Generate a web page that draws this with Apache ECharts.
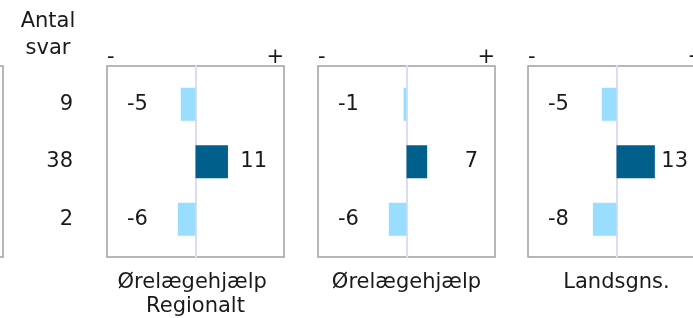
<!DOCTYPE html>
<html>
<head>
<meta charset="utf-8">
<script src="https://cdn.jsdelivr.net/npm/echarts@6/dist/echarts.min.js"></script>
<style>
  html, body { margin: 0; padding: 0; background: #fff; }
  #main { width: 693px; height: 318px; }
</style>
</head>
<body>
<div id="main"></div>
<script>
// rows (top to bottom) and number of answers
const rows = ['r1', 'r2', 'r3']
const antalSvar = [9, 38, 2]

// panels
const panelNames = ['Ørelægehjælp \nRegionalt', 'Ørelægehjælp', 'Landsgns.']
const valuesRegionalt = [-5, 11, -6]
const valuesOrelaege = [-1, 7, -6]
const valuesLandsgns = [-5, 13, -8]
const panelValues = [valuesRegionalt, valuesOrelaege, valuesLandsgns]

const axisMin = -30
const axisMax = 30

const FONT = "'DejaVu Sans', Verdana, sans-serif"
const FS = 21
const TXT = '#1a1a1a'
const LIGHT = '#99ddff'
const DARK = '#005f8b'

const panelLeft = [107, 318, 528]
const boxW = 177

let option = {
  backgroundColor: '#fff',
  animation: false,
  textStyle: { fontFamily: FONT },
  title: {
    text: 'Antal\nsvar',
    left: 48,
    top: 8,
    padding: 0,
    textAlign: 'center',
    textStyle: { fontFamily: FONT, fontSize: FS, fontWeight: 'normal', color: TXT, lineHeight: 27 }
  },
  grid: [],
  xAxis: [],
  yAxis: [],
  series: []
}

// partial panel cut off at the left edge
option.grid.push({ left: -174, top: 66, width: boxW, height: 191, show: true, borderColor: '#a0a0a0', borderWidth: 1.5, outerBoundsMode: 'none' })
option.xAxis.push({ gridIndex: 0, type: 'value', min: axisMin, max: axisMax, show: false })
option.yAxis.push({ gridIndex: 0, type: 'value', show: false })

panelValues.forEach((vals, p) => {
  const boxGrid = option.grid.length
  const dataGrid = boxGrid + 1
  option.grid.push({ left: panelLeft[p], top: 66, width: boxW, height: 191, show: true, borderColor: '#a0a0a0', borderWidth: 1.5, outerBoundsMode: 'none' })
  option.grid.push({ left: panelLeft[p], top: 75.5, width: boxW, height: 172.5, outerBoundsMode: 'none' })

  // top "-" / "+" marks
  option.xAxis.push({
    gridIndex: boxGrid, type: 'value', position: 'top', min: axisMin, max: axisMax, interval: 30,
    axisLine: { show: false }, axisTick: { show: false }, splitLine: { show: false },
    axisLabel: {
      margin: -2, fontSize: FS, color: TXT, fontFamily: FONT,
      alignMinLabel: 'left', alignMaxLabel: 'right',
      formatter: v => v === axisMin ? '-' : (v === axisMax ? '+' : '')
    }
  })
  // panel name below
  option.xAxis.push({
    gridIndex: boxGrid, type: 'value', position: 'bottom', min: axisMin, max: axisMax,
    axisLine: { show: false }, axisTick: { show: false }, splitLine: { show: false }, axisLabel: { show: false },
    name: panelNames[p], nameLocation: 'middle', nameGap: 14,
    nameTextStyle: { fontSize: FS, color: TXT, fontFamily: FONT, lineHeight: 24, verticalAlign: 'top' }
  })
  // zero line
  option.yAxis.push({
    gridIndex: boxGrid, type: 'value', min: 0, max: 1,
    axisLine: { show: true, onZero: true, lineStyle: { color: '#dcdcf2', width: 2 } },
    axisTick: { show: false }, axisLabel: { show: false }, splitLine: { show: false }
  })

  const dataX = option.xAxis.length
  option.xAxis.push({ gridIndex: dataGrid, type: 'value', min: axisMin, max: axisMax, show: false })

  const yNeg = option.yAxis.length
  option.yAxis.push({
    gridIndex: dataGrid, type: 'category', data: rows, inverse: true, position: 'left',
    axisLine: { show: false }, axisTick: { show: false },
    axisLabel: {
      inside: true, margin: 20, fontSize: FS, color: TXT, fontFamily: FONT,
      formatter: (v, i) => vals[i] < 0 ? String(vals[i]) : ''
    }
  })
  option.yAxis.push({
    gridIndex: dataGrid, type: 'category', data: rows, inverse: true, position: 'right',
    axisLine: { show: false }, axisTick: { show: false },
    axisLabel: {
      inside: true, margin: 17, fontSize: FS, color: TXT, fontFamily: FONT,
      formatter: (v, i) => vals[i] >= 0 ? String(vals[i]) : ''
    }
  })
  if (p === 0) {
    option.yAxis.push({
      gridIndex: dataGrid, type: 'category', data: rows, inverse: true, position: 'left',
      axisLine: { show: false }, axisTick: { show: false },
      axisLabel: {
        margin: 34, fontSize: FS, color: TXT, fontFamily: FONT,
        formatter: (v, i) => String(antalSvar[i])
      }
    })
  }

  option.series.push({
    type: 'bar',
    xAxisIndex: dataX,
    yAxisIndex: yNeg,
    barWidth: 33,
    silent: true,
    data: vals.map(v => ({ value: v, itemStyle: { color: v < 0 ? LIGHT : DARK } }))
  })
})

const chart = echarts.init(document.getElementById('main'))
chart.setOption(option)
</script>
</body>
</html>
